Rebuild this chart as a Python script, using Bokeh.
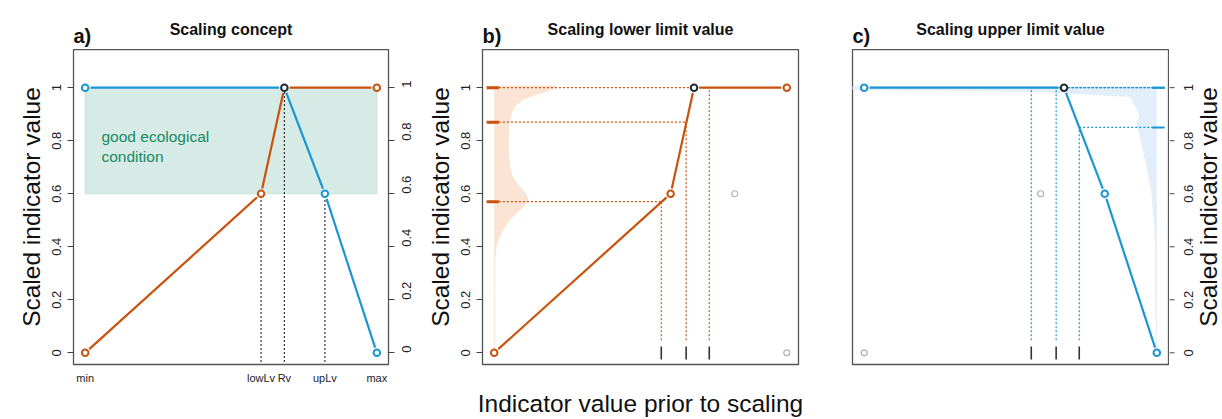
import math
from bokeh.plotting import figure
from bokeh.layouts import row, column
from bokeh.models import Range1d, LinearAxis, FixedTicker
from bokeh.embed import file_html
from bokeh.resources import INLINE
from bokeh.core.properties import value

# ---------------- data ----------------
concept_x_labels = ["min", "lowLv", "Rv", "upLv", "max"]
concept_x = [0.0, 0.603, 0.683, 0.822, 1.0]

lower_x = [0.0, 0.603, 0.683, 1.0]
lower_y = [0.0, 0.6, 1.0, 1.0]
upper_x = [0.0, 0.683, 0.822, 1.0]
upper_y = [1.0, 1.0, 0.6, 0.0]
rv_x, rv_y = 0.683, 1.0
good_low, good_high = 0.6, 1.0

rug_x = [0.571, 0.656, 0.735]
rug_scaled_lower = [0.57, 0.87, 1.0]
rug_scaled_upper = [1.0, 1.0, 0.85]

dens_lower_y = [0.0, 0.2, 0.35, 0.40, 0.44, 0.48, 0.52, 0.55, 0.575, 0.60, 0.63, 0.66,
                0.70, 0.75, 0.80, 0.85, 0.90, 0.93, 0.955, 0.975, 0.99, 1.0, 1.008]
dens_lower_w = [0.003, 0.003, 0.004, 0.008, 0.02, 0.04, 0.07, 0.10, 0.118, 0.11, 0.085, 0.065,
                0.055, 0.05, 0.05, 0.051, 0.058, 0.072, 0.10, 0.15, 0.195, 0.215, 0.205]
dens_upper_y = [0.0, 0.05, 0.2, 0.4, 0.5, 0.6, 0.65, 0.70, 0.75, 0.80, 0.83, 0.86, 0.88,
                0.90, 0.92, 0.94, 0.965, 0.978, 0.986, 0.992, 1.004]
dens_upper_w = [0.002, 0.003, 0.005, 0.006, 0.01, 0.018, 0.026, 0.034, 0.045, 0.055, 0.06,
                0.07, 0.065, 0.06, 0.07, 0.08, 0.09, 0.30, 0.50, 1.05, 1.05]

y_ticks = [0.0, 0.2, 0.4, 0.6, 0.8, 1.0]
y_tick_labels = ["0", "0.2", "0.4", "0.6", "0.8", "1"]

titles = ["Scaling concept", "Scaling lower limit value", "Scaling upper limit value"]
letters = ["a)", "b)", "c)"]
y_title = "Scaled indicator value"
x_title = "Indicator value prior to scaling"

# ---------------- style / layout ----------------
ORANGE = "#c8520e"
BLUE = "#1a96d4"
DARK = "#1d2a33"
GREY = "#b0b0b0"
FONT = "Liberation Sans"
X0, X1 = -0.04, 1.04
Y0, Y1 = -0.044, 1.144
W_TOTAL = 1222
TOP_H = 49
H = 419 - TOP_H
BOTTOM = 53
FRAME_H = H - BOTTOM
FRAME_W = 316
PX_X = FRAME_W / (X1 - X0)
PX_Y = FRAME_H / (Y1 - Y0)
TICK = 6

# (min_border_left, frame width, min_border_right) of the three panels
A_L, A_F, A_R = 73, 315, 33
B_L, B_F, B_R = 61, 316, 24
C_L, C_F, C_R = 30, 316, 1
frame_left = [A_L, A_L + A_F + A_R + B_L,
              A_L + A_F + A_R + B_L + B_F + B_R + C_L]
frame_w = [A_F, B_F, C_F]
c_frame_right = frame_left[2] + C_F
strip_left = c_frame_right + C_R


def gapped(xs, ys, gap=5.5):
    ox, oy = [], []
    for i in range(len(xs) - 1):
        dx = (xs[i + 1] - xs[i]) * PX_X
        dy = (ys[i + 1] - ys[i]) * PX_Y
        L = math.hypot(dx, dy)
        if L <= 2 * gap:
            continue
        f = gap / L
        ox.append([xs[i] + (xs[i + 1] - xs[i]) * f, xs[i + 1] - (xs[i + 1] - xs[i]) * f])
        oy.append([ys[i] + (ys[i + 1] - ys[i]) * f, ys[i + 1] - (ys[i + 1] - ys[i]) * f])
    return ox, oy


def make_fig(left, frame, right):
    p = figure(width=left + frame + right, height=H, x_range=Range1d(X0, X1),
               y_range=Range1d(Y0, Y1), title=None,
               x_axis_location=None, y_axis_location=None, toolbar_location=None,
               output_backend="svg", min_border_left=left, min_border_right=right,
               min_border_top=0, min_border_bottom=BOTTOM)
    p.outline_line_color = "#555555"
    p.outline_line_width = 1.3
    p.background_fill_color = "white"
    p.border_fill_color = "white"
    p.grid.visible = False
    return p


def y_axis(p, side, label=None):
    ax = LinearAxis(ticker=FixedTicker(ticks=y_ticks),
                    major_label_overrides=dict(zip(y_ticks, y_tick_labels)))
    ax.axis_line_color = None
    ax.major_tick_out = TICK
    ax.major_tick_in = 0
    ax.major_tick_line_color = "#444444"
    ax.minor_tick_line_color = None
    ax.major_label_text_font = FONT
    ax.major_label_text_font_size = "13px"
    ax.major_label_text_color = "#222222"
    if side == "left":
        ax.major_label_orientation = "vertical"
        ax.major_label_standoff = 6
    else:
        ax.major_label_orientation = math.pi / 2
        ax.major_label_standoff = 12
    if label:
        ax.axis_label = label
        ax.axis_label_standoff = 5
        ax.axis_label_text_font = FONT
        ax.axis_label_text_font_size = "24.5px"
        ax.axis_label_text_font_style = "normal"
        ax.axis_label_text_color = "#111111"
    p.add_layout(ax, side)


def points(p, xs, ys, color, size=6.5, lw=2):
    p.scatter(xs, ys, marker="circle", size=size, fill_color="white",
              line_color=color, line_width=lw)


# ---------------- top strip: titles and panel letters ----------------
top = figure(width=W_TOTAL, height=TOP_H, x_range=Range1d(0, W_TOTAL),
             y_range=Range1d(TOP_H, 0), title=None, x_axis_location=None,
             y_axis_location=None, toolbar_location=None, output_backend="svg",
             min_border=0)
top.outline_line_color = None
top.grid.visible = False
top.text(x=[fl + fw / 2 for fl, fw in zip(frame_left, frame_w)], y=[29] * 3, text=titles,
         text_font=value(FONT), text_font_size="16px", text_font_style="bold",
         text_color="#111111", text_align="center", text_baseline="alphabetic")
top.text(x=frame_left, y=[35.5] * 3, text=letters,
         text_font=value(FONT), text_font_size="20px", text_font_style="bold",
         text_color="#111111", text_align="left", text_baseline="alphabetic")

# ---------------- panel a ----------------
pa = make_fig(A_L, A_F, A_R)
pa.quad(left=[lower_x[0]], right=[lower_x[-1]], bottom=[good_low], top=[good_high],
        fill_color="#d6ebe5", line_color="#c3e2d9", line_width=1)
pa.text(x=[0.056, 0.056], y=[0.816, 0.741], text=["good ecological", "condition"],
        text_font=value(FONT), text_font_size="15.5px", text_color="#178a62",
        text_baseline="alphabetic", text_align="left")
vx = [concept_x[1], concept_x[2], concept_x[3]]
vy = [lower_y[1], rv_y, upper_y[2]]
pa.segment(x0=vx, y0=[-0.035] * 3, x1=vx, y1=vy, line_color="#333333",
           line_width=1.2, line_dash="2 2")
gx, gy = gapped(lower_x, lower_y)
pa.multi_line(gx, gy, line_color=ORANGE, line_width=2.2)
gx, gy = gapped(upper_x, upper_y)
pa.multi_line(gx, gy, line_color=BLUE, line_width=2.2)
points(pa, [lower_x[0], lower_x[1], lower_x[3]], [lower_y[0], lower_y[1], lower_y[3]], ORANGE)
points(pa, [upper_x[0], upper_x[2], upper_x[3]], [upper_y[0], upper_y[2], upper_y[3]], BLUE)
points(pa, [rv_x], [rv_y], DARK)
y_axis(pa, "left", y_title)
y_axis(pa, "right")
xa = LinearAxis(ticker=FixedTicker(ticks=concept_x),
                major_label_overrides=dict(zip(concept_x, concept_x_labels)))
xa.axis_line_color = None
xa.major_tick_line_color = None
xa.minor_tick_line_color = None
xa.major_tick_out = 0
xa.major_tick_in = 0
xa.major_label_standoff = 7
xa.major_label_text_font = FONT
xa.major_label_text_font_size = "11px"
xa.major_label_text_color = "#222222"
pa.add_layout(xa, "below")

# ---------------- panel b ----------------
pb = make_fig(B_L, B_F, B_R)
pb.patch(x=list(dens_lower_w) + [0.0, 0.0],
         y=list(dens_lower_y) + [dens_lower_y[-1], dens_lower_y[0]],
         fill_color="#fce4d5", line_color=None)
pb.segment(x0=[-0.026] * 3, y0=rug_scaled_lower, x1=[0.016] * 3, y1=rug_scaled_lower,
           line_color=ORANGE, line_width=3)
pb.segment(x0=[0.016] * 3, y0=rug_scaled_lower, x1=rug_x, y1=rug_scaled_lower,
           line_color=ORANGE, line_width=1.2, line_dash="2 2")
pb.segment(x0=rug_x, y0=[0.047] * 3, x1=rug_x, y1=rug_scaled_lower,
           line_color=ORANGE, line_width=1.2, line_dash="2 2")
pb.segment(x0=rug_x, y0=[-0.025] * 3, x1=rug_x, y1=[0.024] * 3,
           line_color="#333333", line_width=1.6)
gx, gy = gapped(lower_x, lower_y)
pb.multi_line(gx, gy, line_color=ORANGE, line_width=2.2)
points(pb, [upper_x[2], upper_x[3]], [upper_y[2], upper_y[3]], GREY, size=6, lw=1.2)
points(pb, [lower_x[0], lower_x[1], lower_x[3]], [lower_y[0], lower_y[1], lower_y[3]], ORANGE)
points(pb, [rv_x], [rv_y], DARK)
y_axis(pb, "left", y_title)
xb = LinearAxis(ticker=FixedTicker(ticks=[]), axis_label=x_title)
xb.axis_line_color = None
xb.major_tick_line_color = None
xb.minor_tick_line_color = None
xb.major_tick_out = 0
xb.major_label_standoff = 0
xb.axis_label_standoff = 25
xb.axis_label_text_font = FONT
xb.axis_label_text_font_size = "24.5px"
xb.axis_label_text_font_style = "normal"
xb.axis_label_text_color = "#111111"
pb.add_layout(xb, "below")

# ---------------- panel c ----------------
pc = make_fig(C_L, C_F, C_R)
pc.patch(x=[1.0 - w for w in dens_upper_w] + [1.0, 1.0],
         y=list(dens_upper_y) + [dens_upper_y[-1], dens_upper_y[0]],
         fill_color="#e2eef9", line_color=None)
pc.segment(x0=[0.984] * 3, y0=rug_scaled_upper, x1=[1.027] * 3, y1=rug_scaled_upper,
           line_color=BLUE, line_width=2)
pc.segment(x0=rug_x, y0=rug_scaled_upper, x1=[0.984] * 3, y1=rug_scaled_upper,
           line_color=BLUE, line_width=1.2, line_dash="2 2")
pc.segment(x0=rug_x, y0=[0.047] * 3, x1=rug_x, y1=rug_scaled_upper,
           line_color=BLUE, line_width=1.2, line_dash="2 2")
pc.segment(x0=rug_x, y0=[-0.025] * 3, x1=rug_x, y1=[0.024] * 3,
           line_color="#333333", line_width=1.6)
gx, gy = gapped(upper_x, upper_y)
pc.multi_line(gx, gy, line_color=BLUE, line_width=2.2)
points(pc, [lower_x[0], lower_x[1]], [lower_y[0], lower_y[1]], GREY, size=6, lw=1.2)
points(pc, [upper_x[0], upper_x[2], upper_x[3]], [upper_y[0], upper_y[2], upper_y[3]], BLUE)
points(pc, [rv_x], [rv_y], DARK)

# ---------------- right strip: y axis of panel c (ticks, labels, title) ----------------
strip_w = W_TOTAL - strip_left
ps = figure(width=strip_w, height=H, x_range=Range1d(strip_left, W_TOTAL),
            y_range=Range1d(Y0, Y1), title=None, x_axis_location=None,
            y_axis_location=None, toolbar_location=None, output_backend="svg",
            min_border_left=0, min_border_right=0, min_border_top=0,
            min_border_bottom=BOTTOM)
ps.outline_line_color = None
ps.grid.visible = False
ps.segment(x0=[strip_left] * len(y_ticks), y0=y_ticks,
           x1=[c_frame_right + TICK] * len(y_ticks), y1=y_ticks,
           line_color="#444444", line_width=1)
ps.text(x=[c_frame_right + 20] * len(y_ticks), y=y_ticks, text=y_tick_labels,
        angle=math.pi / 2, text_font=value(FONT), text_font_size="13px",
        text_color="#222222", text_align="center", text_baseline="middle")
ps.text(x=[W_TOTAL - 14], y=[0.55], text=[y_title], angle=math.pi / 2,
        text_font=value(FONT), text_font_size="24.5px", text_color="#111111",
        text_align="center", text_baseline="middle")

layout = column(top, row(pa, pb, pc, ps, spacing=0), spacing=0)
open("out.html", "w").write(file_html(layout, INLINE))
